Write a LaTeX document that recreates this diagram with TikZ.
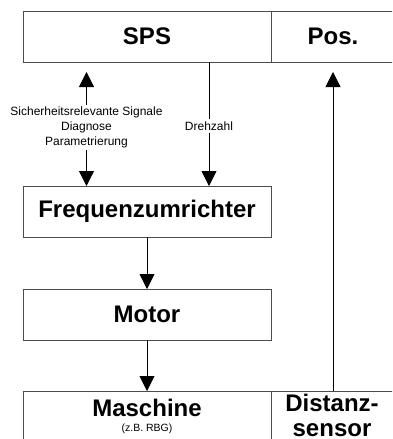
\documentclass[tikz,border=0pt]{standalone}
\usepackage{fontspec}
\setmainfont{Liberation Sans}
\usetikzlibrary{arrows.meta,positioning}
\tikzset{
  block/.style={draw=black!70, line width=0.8pt, minimum width=248pt, minimum height=51pt, inner sep=0pt, outer sep=0pt, font=\bfseries\fontsize{24}{25}\selectfont},
  blocktext/.style={font=\bfseries\fontsize{24}{24.5}\selectfont, inner sep=0pt},
  signal/.style={font=\fontsize{12}{15}\selectfont, align=center, inner sep=2pt},
  flow/.style={-{Triangle[width=15pt,length=15pt]}, line width=0.8pt}
}
\begin{document}
\begin{tikzpicture}[x=1pt,y=-1pt]
    \useasboundingbox (0,0) rectangle (392,439);
    \clip (0,0) rectangle (392,439);
    \node[block] (sps) at (147,36.5) {SPS};
    \node[block, minimum width=124pt, right=0pt of sps] (pos) {Pos.};
    \node[block] (fu) at (147,211.5) {Frequenzumrichter};
    \node[block] (motor) at (147,314.5) {Motor};
    \node[block, minimum height=80pt, anchor=north] (maschine) at (147,391) {};
    \node[block, minimum width=124pt, minimum height=80pt, right=0pt of maschine] (distanz) {};
    \node[blocktext, anchor=base] (maschname) at (147,416) {Maschine};
    \node[font=\fontsize{10.5}{12}\selectfont, inner sep=0pt, anchor=base] (rbg) at (147,431) {(z.B. RBG)};
    \node[blocktext, align=center, anchor=north] (dstext) at (332,394) {Distanz-\\sensor};
    \node[signal] (sig) at (86.5,127.5) {Sicherheitsrelevante Signale\\Diagnose\\Parametrierung};
    \draw[flow, shorten >=10pt] (sig) -- (sig |- sps.south);
    \draw[flow] (sig) -- (sig |- fu.north);
    \node[signal] (dz) at (209,126) {Drehzahl};
    \draw[line width=0.8pt] (dz) -- (dz |- sps.south);
    \draw[flow] (dz) -- (dz |- fu.north);
    \draw[flow] (fu) -- (motor);
    \draw[flow] (motor) -- (maschine);
    \draw[flow, shorten >=10pt] (distanz) -- (pos);
\end{tikzpicture}
\end{document}
